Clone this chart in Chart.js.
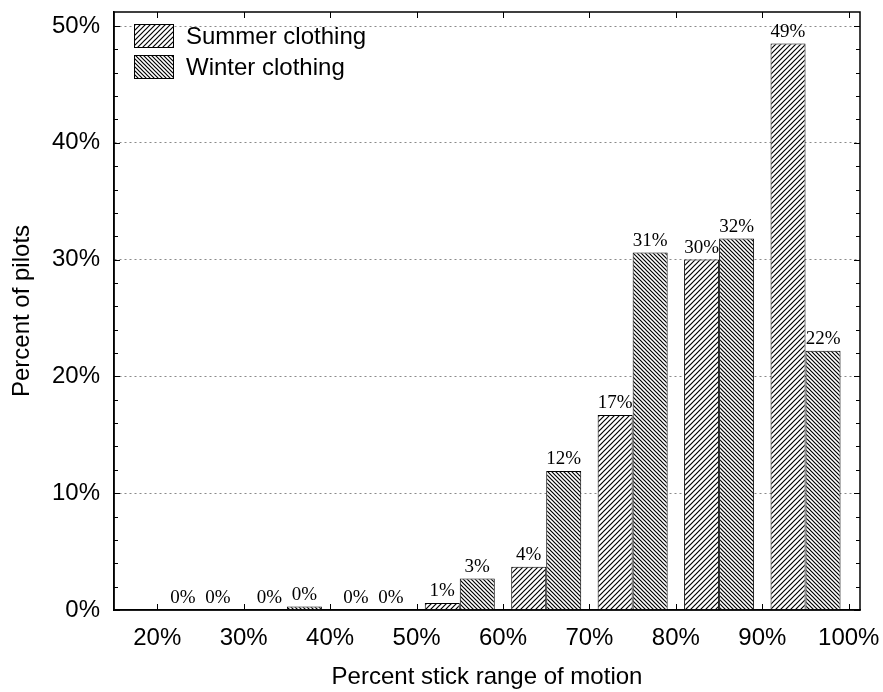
<!DOCTYPE html>
<html>
<head>
<meta charset="utf-8">
<script src="https://cdn.jsdelivr.net/npm/chart.js@4.4.0/dist/chart.umd.min.js"></script>
<style>
  html, body { margin: 0; padding: 0; background: #fff; }
  #wrap { width: 883px; height: 692px; }
</style>
</head>
<body>
<div id="wrap"><canvas id="myChart"></canvas></div>
<script>
// bins of stick range, labelled at their edges
const binStarts = [20, 30, 40, 50, 60, 70, 80, 90];
const summerValues = [0, 0, 0, 0.6, 3.7, 16.7, 30.0, 48.5];
const winterValues = [0, 0.3, 0, 2.7, 11.9, 30.6, 31.8, 22.2];
const xTicks = [20, 30, 40, 50, 60, 70, 80, 90, 100];
const yTicks = [0, 10, 20, 30, 40, 50];

const FONT = '"Liberation Sans", Arial, sans-serif';

function makeHatch(dir, size) {
  const c = document.createElement('canvas');
  c.width = size; c.height = size;
  const g = c.getContext('2d');
  g.fillStyle = '#fff';
  g.fillRect(0, 0, size, size);
  g.strokeStyle = '#000';
  g.lineWidth = 1.2;
  g.beginPath();
  if (dir > 0) {
    g.moveTo(-1, size + 1); g.lineTo(size + 1, -1);
    g.moveTo(-1, 1); g.lineTo(1, -1);
    g.moveTo(size - 1, size + 1); g.lineTo(size + 1, size - 1);
  } else {
    g.moveTo(-1, -1); g.lineTo(size + 1, size + 1);
    g.moveTo(size - 1, -1); g.lineTo(size + 1, 1);
    g.moveTo(-1, size - 1); g.lineTo(1, size + 1);
  }
  g.stroke();
  return g.createPattern(c, 'repeat');
}

const summerFill = makeHatch(1, 5);
const winterFill = makeHatch(-1, 4);

const dataSummer = {
  label: 'Summer clothing',
  data: binStarts.map((b, i) => ({x: b + 5, y: summerValues[i]})),
  backgroundColor: summerFill,
  borderColor: '#000',
  borderWidth: 1
};
const dataWinter = {
  label: 'Winter clothing',
  data: binStarts.map((b, i) => ({x: b + 5, y: winterValues[i]})),
  backgroundColor: winterFill,
  borderColor: '#000',
  borderWidth: 1
};

// frame, inward ticks, value labels and legend inside the plot
const extras = {
  id: 'extras',
  afterDatasetsDraw(chart) {
    const ctx = chart.ctx, a = chart.chartArea;
    const xs = chart.scales.x, ys = chart.scales.y;
    ctx.save();
    ctx.strokeStyle = '#000';
    ctx.lineWidth = 1.5;
    ctx.strokeRect(a.left, a.top, a.right - a.left, a.bottom - a.top);

    ctx.lineWidth = 1;
    ctx.beginPath();
    xTicks.forEach(v => {
      const px = Math.round(xs.getPixelForValue(v)) + 0.5;
      ctx.moveTo(px, a.bottom); ctx.lineTo(px, a.bottom - 6);
      ctx.moveTo(px, a.top); ctx.lineTo(px, a.top + 6);
    });
    for (let v = 0; v <= 50; v += 2) {
      const py = Math.round(ys.getPixelForValue(v)) + 0.5;
      const len = v % 10 === 0 ? 6 : 4;
      ctx.moveTo(a.left, py); ctx.lineTo(a.left + len, py);
      ctx.moveTo(a.right, py); ctx.lineTo(a.right - len, py);
    }
    ctx.stroke();

    // value labels
    ctx.fillStyle = '#000';
    ctx.font = '19px "Liberation Serif", serif';
    ctx.textAlign = 'center';
    ctx.textBaseline = 'bottom';
    chart.data.datasets.forEach((ds, di) => {
      chart.getDatasetMeta(di).data.forEach((bar, i) => {
        ctx.fillText(Math.round(ds.data[i].y) + '%', bar.x, bar.y - 2);
      });
    });

    // legend
    ctx.font = '24px ' + FONT;
    ctx.textAlign = 'left';
    ctx.textBaseline = 'middle';
    chart.data.datasets.forEach((ds, di) => {
      const bx = a.left + 20, by = a.top + 12 + di * 31;
      ctx.fillStyle = ds.backgroundColor;
      ctx.fillRect(bx, by, 39, 23);
      ctx.strokeStyle = '#000';
      ctx.lineWidth = 1;
      ctx.strokeRect(bx + 0.5, by + 0.5, 39, 23);
      ctx.fillStyle = '#000';
      ctx.fillText(ds.label, bx + 52, by + 13);
    });
    ctx.restore();
  }
};

function noPad(scale) {
  scale.paddingTop = 0;
  scale.paddingBottom = 0;
  scale.paddingLeft = 0;
  scale.paddingRight = 0;
}

const ctx = document.getElementById('myChart');
const myChart = new Chart(ctx, {
  type: 'bar',
  data: {
    datasets: [dataSummer, dataWinter]
  },
  options: {
    responsive: true,
    maintainAspectRatio: false,
    animation: false,
    layout: { padding: { left: 8, right: 23, top: 12, bottom: 0 } },
    categoryPercentage: 0.81,
    barPercentage: 1.0,
    plugins: {
      legend: { display: false },
      tooltip: { enabled: false }
    },
    scales: {
      x: {
        type: 'linear',
        offset: false,
        min: 15,
        max: 101.3,
        afterFit(scale) { scale.height = 82; noPad(scale); },
        afterBuildTicks(scale) { scale.ticks = xTicks.map(v => ({value: v})); },
        ticks: {
          callback: v => v + '%',
          color: '#000',
          padding: 14,
          maxRotation: 0,
          autoSkip: false,
          font: { family: FONT, size: 24 }
        },
        grid: { display: false, drawTicks: false },
        border: { display: true, color: '#000', width: 1.5 },
        title: {
          display: true,
          text: 'Percent stick range of motion',
          color: '#000',
          padding: { top: 0, bottom: 0 },
          font: { family: FONT, size: 24 }
        }
      },
      y: {
        min: 0,
        max: 51.2,
        afterFit(scale) { scale.width = 106; noPad(scale); },
        afterBuildTicks(scale) { scale.ticks = yTicks.map(v => ({value: v})); },
        ticks: {
          callback: v => v + '%',
          color: '#000',
          padding: 14,
          font: { family: FONT, size: 24 }
        },
        grid: {
          drawTicks: false,
          color: ctx => ctx.tick && ctx.tick.value > 0 ? '#8a8a8a' : 'rgba(0,0,0,0)',
          lineWidth: 1
        },
        border: { display: true, color: '#000', width: 1.5, dash: [2, 3] },
        title: {
          display: true,
          text: 'Percent of pilots',
          color: '#000',
          padding: { top: 0, bottom: 0 },
          font: { family: FONT, size: 24 }
        }
      }
    }
  },
  plugins: [extras]
});
</script>
</body>
</html>
